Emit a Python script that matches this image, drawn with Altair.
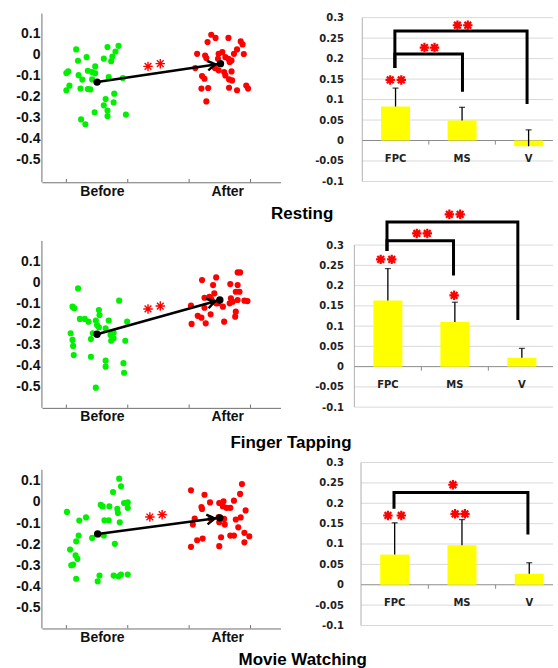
import altair as alt
import pandas as pd

MFONT = "Liberation Sans"
XFONT = "DejaVu Sans"
GREEN = "#00f000"
RED = "#ff0000"
YELLOW = "#ffff00"
STAR = "M-1,0L1,0M0,-1L0,1M-0.71,-0.71L0.71,0.71M-0.71,0.71L0.71,-0.71"
CHEVRON = "M-2,-0.75L-0.8,0L-2,0.75"

conditions = ["Resting", "Finger Tapping", "Movie Watching"]
groups = ["Before", "After"]
regions = ["FPC", "MS", "V"]
region_pos = [0.5, 1.5, 2.5]

# ---------------- Resting ----------------
rest_before_x = [1.16, 1.67, 1.85, 1.80, 1.75, 1.33, 1.61, 1.19, 1.73, 1.47, 1.03, 1.00, 1.35, 1.42, 1.20, 1.47, 1.69, 1.92,
                 1.26, 1.42, 1.05, 1.00, 1.23, 1.35, 1.39, 1.78, 1.64, 1.77, 1.61, 1.67, 1.67, 1.46, 1.97, 1.24, 1.31]
rest_before_y = [0.024, 0.035, 0.041, 0.014, -0.010, -0.013, -0.020, -0.030, -0.032, -0.057, -0.081, -0.089, -0.078, -0.084,
                 -0.099, -0.090, -0.108, -0.113, -0.120, -0.119, -0.149, -0.171, -0.163, -0.165, -0.167, -0.187, -0.213,
                 -0.229, -0.243, -0.268, -0.294, -0.276, -0.287, -0.310, -0.333]
rest_after_x = [3.36, 3.43, 3.64, 3.30, 3.84, 3.87, 3.78, 3.13, 3.26, 3.48, 3.54, 3.73, 3.89, 3.28, 3.47, 3.59, 3.64, 3.69,
                3.66, 3.42, 3.10, 3.48, 3.57, 3.69, 3.21, 3.25, 3.59, 3.65, 3.70, 3.20, 3.31, 3.65, 3.78, 3.93, 3.96, 3.28]
rest_after_y = [0.094, 0.079, 0.079, 0.059, 0.062, 0.048, 0.024, 0.003, -0.005, 0.003, 0.011, 0.003, 0.002, -0.017, -0.021,
                -0.013, -0.021, -0.029, -0.036, -0.065, -0.065, -0.076, -0.084, -0.081, -0.103, -0.116, -0.100, -0.119,
                -0.124, -0.163, -0.160, -0.159, -0.171, -0.148, -0.163, -0.224]
rest_mean_x = [1.50, 3.51]
rest_mean_y = [-0.132, -0.044]
rest_sig_x = [2.33, 2.53]
rest_sig_y = [-0.057, -0.044]
rest_bar = [0.083, 0.049, -0.014]
rest_se = [0.045, 0.032, 0.040]
rest_star_x = [0.42, 0.586, 0.934, 1.086, 1.43, 1.586]
rest_star_y = [0.148, 0.148, 0.227, 0.227, 0.2815, 0.2815]
rest_br_id = ["a"] * 4 + ["b"] * 4
rest_br_x = [0.49, 0.49, 2.477, 2.477, 0.49, 0.49, 1.506, 1.506]
rest_br_y = [0.181, 0.2676, 0.2676, 0.093, 0.181, 0.211, 0.211, 0.123]

# ---------------- Finger Tapping ----------------
ft_before_x = [1.19, 1.10, 1.13, 1.86, 1.53, 1.54, 1.22, 1.30, 1.36, 1.48, 1.69, 1.99, 1.50, 1.53, 1.64, 1.07, 1.43, 1.72,
               1.77, 1.10, 1.40, 1.73, 1.77, 1.96, 1.11, 1.12, 1.40, 1.64, 1.64, 1.93, 1.94, 1.48]
ft_before_y = [-0.029, -0.117, -0.125, -0.088, -0.133, -0.157, -0.176, -0.176, -0.189, -0.184, -0.184, -0.189, -0.205,
               -0.216, -0.221, -0.245, -0.245, -0.253, -0.242, -0.277, -0.273, -0.281, -0.269, -0.281, -0.306, -0.350,
               -0.358, -0.377, -0.406, -0.389, -0.435, -0.507]
ft_after_x = [3.21, 3.44, 3.39, 3.79, 3.83, 3.67, 3.79, 3.76, 3.82, 3.41, 3.25, 3.33, 3.39, 3.44, 3.68, 3.71, 3.79, 3.90,
              3.95, 3.03, 3.25, 3.35, 3.55, 3.66, 3.76, 3.75, 3.14, 3.20, 3.57, 3.27, 3.04, 3.36, 3.47]
ft_after_y = [0.011, 0.024, -0.013, 0.048, 0.048, -0.008, -0.013, -0.045, -0.045, -0.053, -0.074, -0.069, -0.093, -0.101,
              -0.077, -0.093, -0.085, -0.088, -0.090, -0.112, -0.122, -0.154, -0.117, -0.101, -0.141, -0.165, -0.161,
              -0.170, -0.189, -0.197, -0.200, -0.080, -0.100]
ft_mean_x = [1.50, 3.50]
ft_mean_y = [-0.250, -0.085]
ft_sig_x = [2.33, 2.53]
ft_sig_y = [-0.128, -0.114]
ft_bar = [0.163, 0.110, 0.022]
ft_se = [0.079, 0.049, 0.023]
ft_star_x = [0.393, 0.558, 1.489, 0.932, 1.088, 1.418, 1.579]
ft_star_y = [0.2647, 0.2647, 0.176, 0.3287, 0.3287, 0.376, 0.376]
ft_br_id = ["a"] * 4 + ["b"] * 4
ft_br_x = [0.487, 0.487, 2.44, 2.44, 0.487, 0.487, 1.48, 1.48]
ft_br_y = [0.289, 0.357, 0.357, 0.119, 0.289, 0.3105, 0.3105, 0.2284]

# ---------------- Movie Watching ----------------
mw_before_x = [1.86, 1.89, 1.76, 1.94, 2.00, 1.56, 1.59, 1.70, 1.83, 1.84, 2.00, 1.01, 1.32, 1.21, 1.62, 1.69, 1.87, 1.20,
               1.16, 1.42, 1.61, 1.79, 1.06, 1.15, 1.18, 1.11, 1.08, 1.16, 1.54, 1.77, 1.85, 1.89, 2.00, 1.51]
mw_before_y = [0.110, 0.074, 0.047, -0.005, -0.002, -0.013, -0.021, -0.021, -0.033, -0.052, -0.028, -0.047, -0.073,
               -0.088, -0.087, -0.087, -0.096, -0.159, -0.186, -0.170, -0.158, -0.198, -0.225, -0.252, -0.269, -0.296,
               -0.299, -0.363, -0.348, -0.348, -0.351, -0.343, -0.343, -0.375]
mw_after_x = [3.03, 3.25, 3.86, 3.83, 3.20, 3.21, 3.34, 3.49, 3.56, 3.55, 3.61, 3.67, 3.73, 3.92, 3.09, 3.35, 3.48, 3.49,
              3.57, 3.58, 3.76, 3.84, 3.80, 3.06, 3.67, 3.73, 3.90, 3.98, 3.52, 3.22, 3.13, 3.49, 3.03, 3.90]
mw_after_y = [0.055, 0.034, 0.085, 0.038, -0.024, -0.033, -0.002, -0.005, 0.003, -0.021, -0.028, -0.028, 0.006, -0.040,
              -0.079, -0.079, -0.071, -0.096, -0.080, -0.107, -0.083, -0.073, -0.120, -0.107, -0.159, -0.159, -0.146,
              -0.162, -0.167, -0.173, -0.181, -0.209, -0.212, -0.191]
mw_mean_x = [1.51, 3.50]
mw_mean_y = [-0.151, -0.075]
mw_sig_x = [2.36, 2.56]
mw_sig_y = [-0.071, -0.060]
mw_bar = [0.074, 0.097, 0.027]
mw_se = [0.078, 0.063, 0.027]
mw_star_x = [0.40, 0.598, 1.398, 1.544, 1.366]
mw_star_y = [0.170, 0.170, 0.174, 0.174, 0.2454]
mw_br_id = ["a"] * 4
mw_br_x = [0.49, 0.49, 2.48, 2.48]
mw_br_y = [0.19, 0.2266, 0.2266, 0.127]

scatter_ticks = [-0.5, -0.4, -0.3, -0.2, -0.1, 0, 0.1]
bar_ticks = [-0.1, -0.05, 0, 0.05, 0.1, 0.15, 0.2, 0.25, 0.3]
bar_grid = [-0.1, -0.05, 0.05, 0.1, 0.15, 0.2, 0.25, 0.3]
group_ticks = [1, 2, 3, 4]
label_pos = [1.58, 3.62]

SC_XDOM = [0.602, 4.488]


def scatter_panel(bx, by, ax_, ay, mx, my, sx, sy, ydom, ytop, height, angle, title, title_dx, title_off):
    xs = alt.Scale(domain=SC_XDOM, nice=False, zero=False)
    ys = alt.Scale(domain=ydom, nice=False, zero=False)
    xaxis = alt.Axis(values=label_pos, labelExpr="datum.value < 2.5 ? 'Before' : 'After'", ticks=False, grid=False,
                     domain=True, domainColor="#707070", labelFont=MFONT, labelFontSize=14, labelFontWeight="bold",
                     labelColor="#111111", labelPadding=2, labelFlush=False, title=None)
    yaxis = alt.Axis(values=scatter_ticks, labelExpr="toString(datum.value)", ticks=False, grid=False, domain=False,
                     labelFont=MFONT, labelFontSize=14, labelFontWeight="bold", labelColor="#111111",
                     labelPadding=2, title=None)
    X = alt.X("x:Q", scale=xs, axis=xaxis)
    Y = alt.Y("y:Q", scale=ys, axis=yaxis)

    yline = alt.Chart(pd.DataFrame({"x": [SC_XDOM[0]], "y": [ydom[0]], "y2": [ytop]})).mark_rule(
        color="#707070", strokeWidth=1).encode(x=X, y=Y, y2="y2:Q")
    tk = alt.Chart(pd.DataFrame({"x": group_ticks, "y": [ydom[0]] * 4, "y2": [ydom[0] + 0.016] * 4})).mark_rule(
        color="#707070", strokeWidth=1).encode(x=X, y=Y, y2="y2:Q")
    pts = pd.DataFrame({"x": bx + ax_, "y": by + ay, "g": ["Before"] * len(bx) + ["After"] * len(ax_)})
    points = alt.Chart(pts).mark_circle(size=38, opacity=1).encode(
        x=X, y=Y, color=alt.Color("g:N", scale=alt.Scale(domain=groups, range=[GREEN, RED]), legend=None))
    mdf = pd.DataFrame({"x": mx, "y": my})
    arrow = alt.Chart(mdf).mark_line(color="black", strokeWidth=2.5).encode(x=X, y=Y)
    means = alt.Chart(mdf).mark_circle(size=55, color="black", opacity=1).encode(x=X, y=Y)
    head = alt.Chart(mdf.iloc[[1]]).mark_point(shape=CHEVRON, size=170, angle=angle, filled=False, color="black",
                                               strokeWidth=2.5, opacity=1).encode(x=X, y=Y)
    stars = alt.Chart(pd.DataFrame({"x": sx, "y": sy})).mark_point(
        shape=STAR, size=90, filled=False, color=RED, strokeWidth=1.4, opacity=1).encode(x=X, y=Y)
    return alt.layer(yline, tk, points, arrow, means, head, stars).properties(
        width=239, height=height,
        title=alt.TitleParams(text=title, orient="bottom", anchor="start", frame="group", align="center",
                              dx=title_dx, offset=title_off, font=MFONT, fontSize=17, fontWeight="bold",
                              color="black"))


def bar_panel(vals, ses, sx, sy, bid, bxs, bys, xdom, ydom, height):
    xs = alt.Scale(domain=xdom, nice=False, zero=False)
    ys = alt.Scale(domain=ydom, nice=False, zero=False)
    yaxis = alt.Axis(values=bar_ticks, labelExpr="toString(datum.value)", ticks=False, grid=False, domain=False,
                     labelFont=XFONT, labelFontSize=10, labelFontWeight="bold", labelColor="#222222",
                     labelPadding=6, title=None)
    X = alt.X("x:Q", scale=xs, axis=None)
    Y = alt.Y("y:Q", scale=ys, axis=yaxis)

    n = len(bar_grid)
    grid = alt.Chart(pd.DataFrame({"x": [0] * n, "x2": [xdom[1]] * n, "y": bar_grid})).mark_rule(
        color="#d9d9d9", strokeWidth=1).encode(x=X, x2="x2:Q", y=Y)
    vline = alt.Chart(pd.DataFrame({"x": [0], "y": [bar_ticks[0]], "y2": [bar_ticks[-1]]})).mark_rule(
        color="#b0b0b0", strokeWidth=1).encode(x=X, y=Y, y2="y2:Q")
    zline = alt.Chart(pd.DataFrame({"x": [0], "x2": [xdom[1]], "y": [0]})).mark_rule(
        color="#8c8c8c", strokeWidth=1).encode(x=X, x2="x2:Q", y=Y)
    ztk = alt.Chart(pd.DataFrame({"x": [1, 2], "y": [0, 0], "y2": [-0.01, -0.01]})).mark_rule(
        color="#8c8c8c", strokeWidth=1).encode(x=X, y=Y, y2="y2:Q")
    bdf = pd.DataFrame({"x": region_pos, "y": vals, "y0": [0] * 3,
                        "top": [v + s for v, s in zip(vals, ses)], "r": regions})
    bars = alt.Chart(bdf).mark_bar(size=29, color=YELLOW).encode(x=X, y=Y, y2="y0:Q")
    err = alt.Chart(bdf).mark_rule(color="black", strokeWidth=1.3).encode(x=X, y=Y, y2="top:Q")
    cdf = pd.DataFrame({"x": region_pos, "y": bdf["top"]})
    caps = alt.Chart(cdf).mark_tick(orient="horizontal", size=6, thickness=1.3, color="black").encode(x=X, y=Y)
    ldf = pd.DataFrame({"x": region_pos, "y": [-0.046] * 3, "t": regions})
    labels = alt.Chart(ldf).mark_text(font=XFONT, fontSize=10, fontWeight="bold", color="#222222",
                                      baseline="middle").encode(x=X, y=Y, text="t:N")
    brdf = pd.DataFrame({"x": bxs, "y": bys, "b": bid, "o": list(range(len(bxs)))})
    br = alt.Chart(brdf).mark_line(color="black", strokeWidth=3, strokeJoin="miter", strokeCap="square").encode(
        x=X, y=Y, detail="b:N", order="o:Q")
    stars = alt.Chart(pd.DataFrame({"x": sx, "y": sy})).mark_point(
        shape=STAR, size=90, filled=False, color=RED, strokeWidth=2.2, opacity=1).encode(x=X, y=Y)
    return alt.layer(grid, vline, zline, ztk, bars, err, caps, labels, br, stars).properties(width=209, height=height)


s1 = scatter_panel(rest_before_x, rest_before_y, rest_after_x, rest_after_y, rest_mean_x, rest_mean_y,
                   rest_sig_x, rest_sig_y, [-0.61, 0.195], 0.195, 169, 351.5, conditions[0], 260.7, 8)
b1 = bar_panel(rest_bar, rest_se, rest_star_x, rest_star_y, rest_br_id, rest_br_x, rest_br_y,
               [-0.119, 2.867], [-0.102, 0.31], 169)
s2 = scatter_panel(ft_before_x, ft_before_y, ft_after_x, ft_after_y, ft_mean_x, ft_mean_y,
                   ft_sig_x, ft_sig_y, [-0.6043, 0.2226], 0.2, 172, 344.5, conditions[1], 249.5, 11)
b2 = bar_panel(ft_bar, ft_se, ft_star_x, ft_star_y, ft_br_id, ft_br_x, ft_br_y,
               [0, 2.965], [-0.1018, 0.322], 172)
s3 = scatter_panel(mw_before_x, mw_before_y, mw_after_x, mw_after_y, mw_mean_x, mw_mean_y,
                   mw_sig_x, mw_sig_y, [-0.598, 0.190], 0.152, 167, 352.6, conditions[2], 261.3, 8)
b3 = bar_panel(mw_bar, mw_se, mw_star_x, mw_star_y, mw_br_id, mw_br_x, mw_br_y,
               [-0.099, 2.853], [-0.1073, 0.3018], 167)

chart = alt.concat(s1, b1, s2, b2, s3, b3, columns=2,
                   spacing=alt.RowColnumber(row=54, column=69), bounds="flush").properties(
    padding={"left": 15, "top": 12, "right": 0, "bottom": 0}, background="white"
).configure_view(stroke=None)

chart.save("out.html", embed_options={"renderer": "svg", "actions": False})
